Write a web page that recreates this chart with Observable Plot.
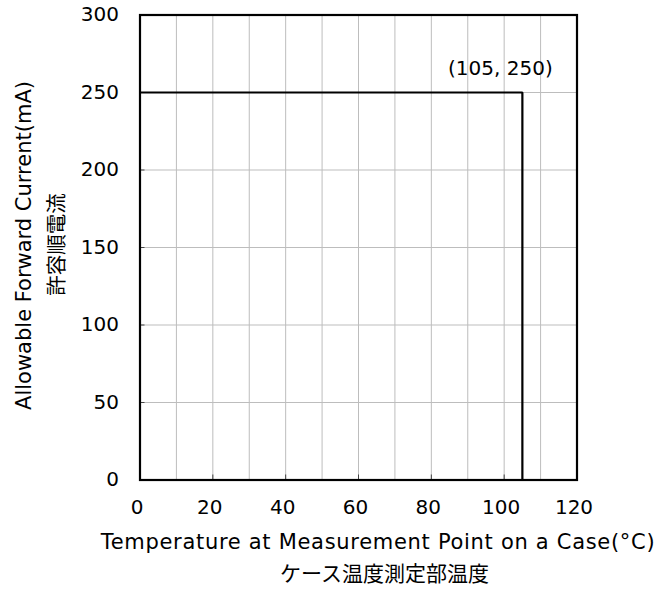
<!DOCTYPE html>
<html>
<head>
<meta charset="utf-8">
<script src="https://cdn.jsdelivr.net/npm/d3@7"></script>
<script src="https://cdn.jsdelivr.net/npm/@observablehq/plot@0.6"></script>
<style>
  html, body { margin: 0; padding: 0; background: #fff; }
  #chart svg { display: block; }
</style>
</head>
<body>
<div id="chart"></div>
<script>
// Derating curve: allowable forward current vs. case temperature
const temperature = [0, 105, 105];
const current = [250, 250, 0];

// Axis ticks and grid
const xTicks = [0, 20, 40, 60, 80, 100, 120];
const xGrid = [10, 20, 30, 40, 50, 60, 70, 80, 90, 100, 110];
const yTicks = [0, 50, 100, 150, 200, 250, 300];
const yGrid = [50, 100, 150, 200, 250];

// Point annotation
const note = [{t: 105, i: 250, label: "(105, 250)"}];

// Axis titles
const xTitle = "Temperature at Measurement Point on a Case(°C)";
const xTitleJa = "ケース温度測定部温度";
const yTitle = "Allowable Forward Current(mA)";
const yTitleJa = "許容順電流";

const curve = temperature.map((t, k) => ({t, i: current[k]}));

const latin = "'DejaVu Sans', Verdana, sans-serif";
const cjk = "'Noto Sans CJK JP', sans-serif";

const chart = Plot.plot({
  width: 661,
  height: 589,
  marginLeft: 139.5,
  marginRight: 84.5,
  marginTop: 14.5,
  marginBottom: 109.5,
  style: {fontFamily: latin, fontSize: "20px", color: "#000", background: "#fff"},
  x: {domain: [0, 120]},
  y: {domain: [0, 300]},
  marks: [
    Plot.ruleX(xGrid, {stroke: "#bdbdbd", strokeWidth: 1}),
    Plot.ruleY(yGrid, {stroke: "#bdbdbd", strokeWidth: 1}),
    Plot.axisX(xTicks, {tickSize: 0, tickPadding: 20, dx: -3, fontSize: 20, fill: "#000", label: null}),
    Plot.axisY(yTicks, {tickSize: 0, tickPadding: 21, fontSize: 20, fill: "#000", label: null}),
    Plot.axisX(xTicks, {tickSize: -5, text: null, label: null, stroke: "#444"}),
    Plot.axisY(yTicks, {tickSize: -5, text: null, label: null, stroke: "#444"}),
    Plot.line(curve, {x: "t", y: "i", stroke: "#000", strokeWidth: 2.2, strokeLinejoin: "miter"}),
    Plot.text(note, {x: "t", y: "i", text: "label", dx: -22, dy: -23.5, fontSize: 20, fill: "#000"}),
    Plot.frame({stroke: "#000", strokeWidth: 2.2}),
    Plot.text([xTitle], {frameAnchor: "bottom", textAnchor: "middle", lineAnchor: "middle",
      dx: 19.5, dy: 62, fontSize: 21, fill: "#000"}),
    Plot.text([xTitleJa], {frameAnchor: "bottom", textAnchor: "middle", lineAnchor: "middle",
      dx: 26, dy: 94, fontSize: 21, fontFamily: cjk, fill: "#000"}),
    Plot.text([yTitle], {frameAnchor: "left", textAnchor: "middle", lineAnchor: "middle", rotate: -90,
      dx: -115.5, dy: -2, fontSize: 21, fill: "#000"}),
    Plot.text([yTitleJa], {frameAnchor: "left", textAnchor: "middle", lineAnchor: "middle", rotate: -90,
      dx: -82.5, dy: -3, fontSize: 20.5, fontFamily: cjk, fill: "#000"})
  ]
});

// The horizontal axis title is set slightly wider
d3.select(chart).selectAll("text")
  .filter(function () { return this.textContent === xTitle; })
  .style("letter-spacing", "0.7px");

document.getElementById("chart").append(chart);
</script>
</body>
</html>
